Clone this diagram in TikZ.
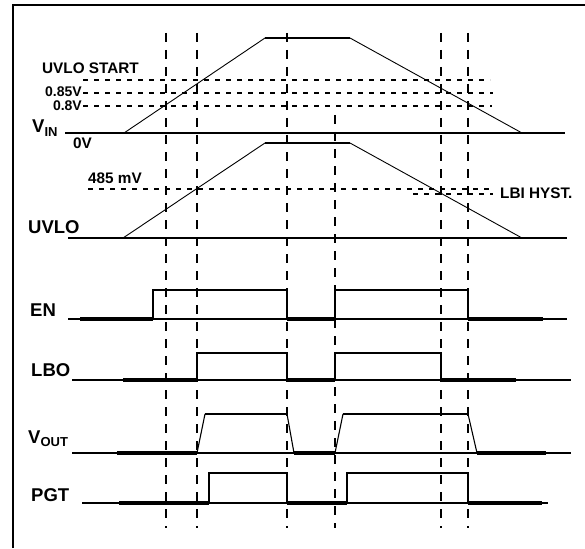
\documentclass[tikz,border=0pt]{standalone}
\usepackage{fontspec}
\setmainfont{Liberation Sans}
\newcommand{\bigsub}[1]{\raisebox{-3.5pt}{\fontsize{13}{13}\selectfont\bfseries #1}}
\begin{document}
\begin{tikzpicture}[x=1pt,y=-1pt,
  base/.style={line width=1.5pt},
  lowthick/.style={line width=3.2pt},
  sig/.style={line width=1.4pt},
  ramp/.style={line width=0.9pt},
  vdash/.style={line width=2.2pt, dash pattern=on 9pt off 8pt},
  hdash/.style={line width=1.9pt, dash pattern=on 5pt off 6pt},
  lbl/.style={font=\fontsize{18.5}{18.5}\selectfont\bfseries, inner sep=0pt, anchor=west},
  slbl/.style={font=\fontsize{15.3}{15.3}\selectfont\bfseries, inner sep=0pt, anchor=west},
  tlbl/.style={font=\fontsize{14}{14}\selectfont\bfseries, inner sep=0pt, anchor=east}]
\useasboundingbox (0,0) rectangle (585,548);
% frame
\draw[line width=2.2pt] (13,548) -- (13,5) -- (585,5);
% vertical dashed markers
\foreach \x in {166,197,287,441,468} \draw[vdash] (\x,33) -- (\x,528);
\draw[vdash] (335,115) -- (335,528);
% horizontal dashed thresholds
\draw[hdash] (83,80) -- (490,80);
\draw[hdash] (83,93) -- (493,93);
\draw[hdash] (83,106) -- (492,106);
\draw[hdash] (88,189) -- (493,189);
\draw[hdash] (413,194) -- (493,194);
% VIN
\draw[base] (65,133) -- (565,133);
\draw[ramp] (124,133) -- (265,38);
\draw[sig] (265,38) -- (350,38);
\draw[ramp] (350,38) -- (522,133);
% UVLO
\draw[base] (68,238) -- (567,238);
\draw[ramp] (123,238) -- (265,143);
\draw[sig] (265,143) -- (350,143);
\draw[ramp] (350,143) -- (522,238);
% EN
\draw[base] (68,319) -- (567,319);
\draw[lowthick] (80,319) -- (153,319) (287,319) -- (335,319) (468,319) -- (543,319);
\draw[sig] (153,319) -- (153,290) -- (287,290) -- (287,319);
\draw[sig] (335,319) -- (335,290) -- (468,290) -- (468,319);
% LBO
\draw[base] (72,380) -- (571,380);
\draw[lowthick] (123,380) -- (197,380) (287,380) -- (335,380) (441,380) -- (516,380);
\draw[sig] (197,380) -- (197,353) -- (287,353) -- (287,380);
\draw[sig] (335,380) -- (335,353) -- (441,353) -- (441,380);
% VOUT
\draw[base] (72,453) -- (571,453);
\draw[lowthick] (117,453) -- (197,453) (294,453) -- (335,453) (477,453) -- (546,453);
\draw[ramp,line width=1.1pt] (197,453) -- (205,414) (287,414) -- (294,453);
\draw[ramp,line width=1.1pt] (335,453) -- (343,414) (468,414) -- (477,453);
\draw[sig] (205,414) -- (287,414);
\draw[sig] (343,414) -- (468,414);
% PGT
\draw[base] (82,503) -- (548,503);
\draw[lowthick] (119,503) -- (209,503) (287,503) -- (347,503) (468,503) -- (542,503);
\draw[sig] (209,503) -- (209,473) -- (287,473) -- (287,503);
\draw[sig] (347,503) -- (347,473) -- (468,473) -- (468,503);
% labels
\node[slbl] (uvlostart) at (42,68) {UVLO START};
\node[tlbl] (v085) at (82,91.5) {0.85V};
\node[tlbl] (v08) at (82,106) {0.8V};
\node[lbl,anchor=base west] (vin) at (32,133) {V\bigsub{IN}};
\node[slbl] (zv) at (73,143) {0V};
\node[slbl] (mv) at (88,178) {485 mV};
\node[slbl] (lbi) at (500,193) {LBI HYST.};
\node[lbl] (uvlo) at (28,227) {UVLO};
\node[lbl] (en) at (30,310) {EN};
\node[lbl] (lbo) at (31,370) {LBO};
\node[lbl,anchor=base west] (vout) at (28,443) {V\bigsub{OUT}};
\node[lbl] (pgt) at (31,495) {PGT};
\end{tikzpicture}
\end{document}
